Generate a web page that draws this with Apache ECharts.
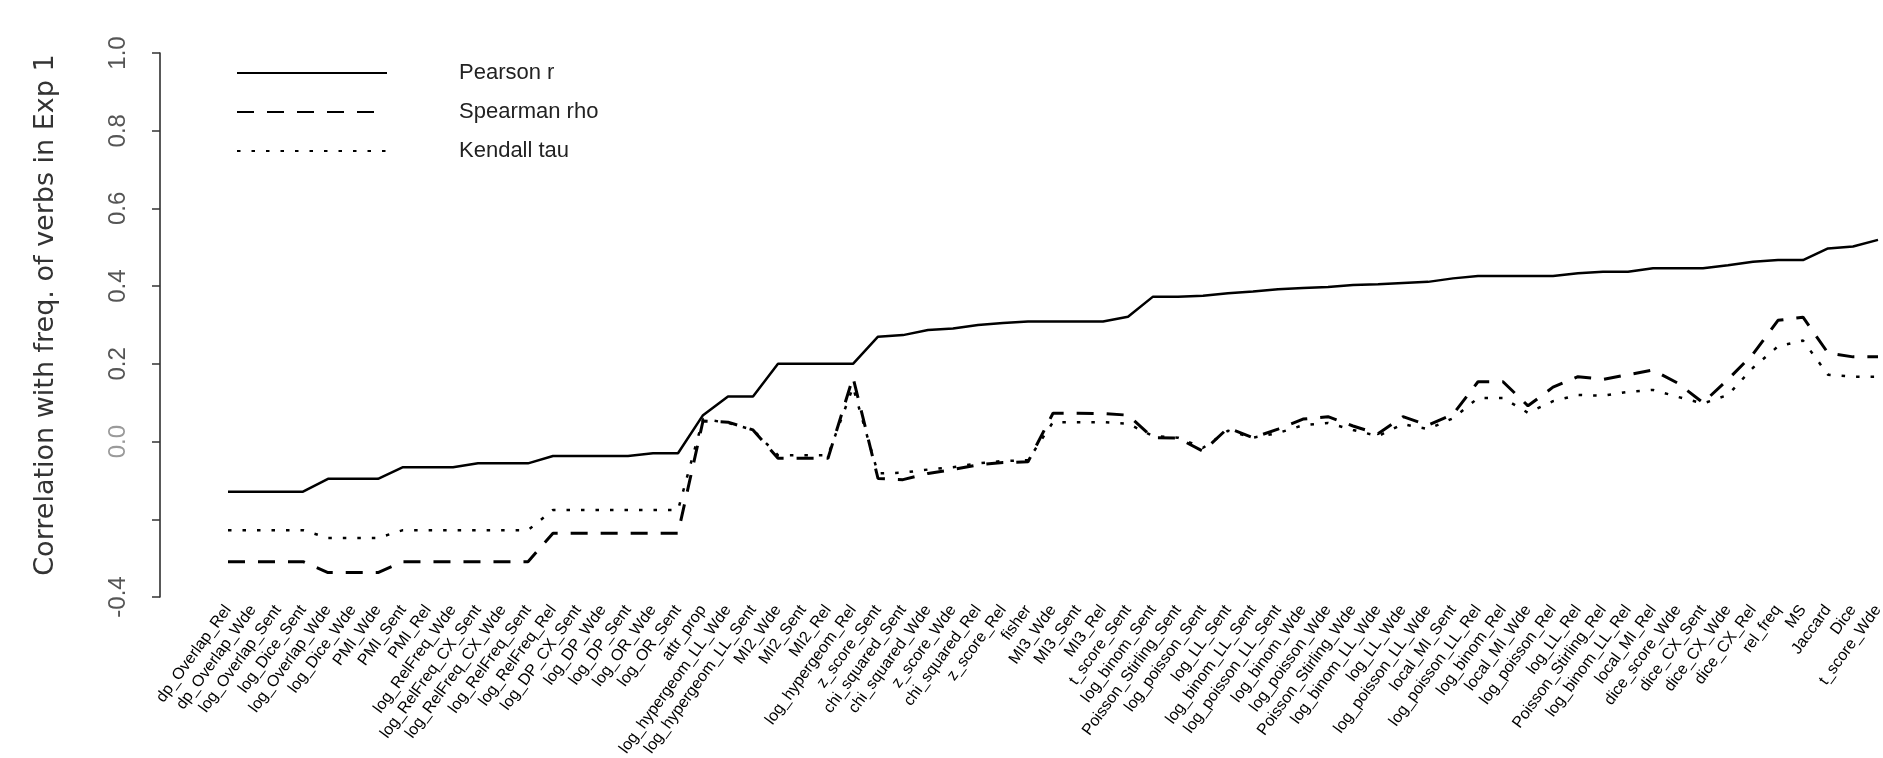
<!DOCTYPE html>
<html>
<head>
<meta charset="utf-8">
<script src="https://cdn.jsdelivr.net/npm/echarts@6/dist/echarts.min.js"></script>
<style>html,body{margin:0;padding:0;background:#fff}#c{width:1883px;height:758px}</style>
</head>
<body>
<div id="c"></div>
<script>
var categories = [
"dp_Overlap_Rel","dp_Overlap_Wde","log_Overlap_Sent","log_Dice_Sent","log_Overlap_Wde","log_Dice_Wde",
"PMI_Wde","PMI_Sent","PMI_Rel","log_RelFreq_Wde","log_RelFreq_CX_Sent","log_RelFreq_CX_Wde",
"log_RelFreq_Sent","log_RelFreq_Rel","log_DP_CX_Sent","log_DP_Wde","log_DP_Sent","log_OR_Wde",
"log_OR_Sent","attr_prop","log_hypergeom_LL_Wde","log_hypergeom_LL_Sent","MI2_Wde","MI2_Sent",
"MI2_Rel","log_hypergeom_Rel","z_score_Sent","chi_squared_Sent","chi_squared_Wde","z_score_Wde",
"chi_squared_Rel","z_score_Rel","fisher","MI3_Wde","MI3_Sent","MI3_Rel","t_score_Sent",
"log_binom_Sent","Poisson_Stirling_Sent","log_poisson_Sent","log_LL_Sent","log_binom_LL_Sent",
"log_poisson_LL_Sent","log_binom_Wde","log_poisson_Wde","Poisson_Stirling_Wde","log_binom_LL_Wde",
"log_LL_Wde","log_poisson_LL_Wde","local_MI_Sent","log_poisson_LL_Rel","log_binom_Rel",
"local_MI_Wde","log_poisson_Rel","log_LL_Rel","Poisson_Stirling_Rel","log_binom_LL_Rel",
"local_MI_Rel","dice_score_Wde","dice_CX_Sent","dice_CX_Wde","dice_CX_Rel","rel_freq","MS",
"Jaccard","Dice","t_score_Wde"
];

var pearson = [
-0.129,-0.129,-0.129,-0.129,
-0.096,-0.096,-0.096,
-0.066,-0.066,-0.066,
-0.056,-0.056,-0.056,
-0.037,-0.037,-0.037,-0.037,
-0.030,-0.030,
0.068,0.116,0.116,
0.200,0.200,0.200,0.200,
0.270,0.274,0.287,0.291,0.300,0.305,0.309,0.309,0.309,0.309,
0.321,0.373,0.373,0.375,0.382,0.386,0.392,0.395,0.398,0.403,
0.405,0.408,0.411,0.420,0.426,0.426,0.426,0.426,
0.433,0.437,0.437,0.446,0.446,0.446,
0.454,0.463,0.467,0.467,0.497,0.502,0.519
];

var spearman = [
-0.309,-0.309,-0.309,-0.309,
-0.337,-0.337,-0.337,
-0.309,-0.309,-0.309,-0.309,-0.309,-0.309,
-0.236,-0.236,-0.236,-0.236,-0.236,-0.236,
0.053,0.050,0.030,
-0.043,-0.043,-0.043,
0.165,
-0.095,-0.098,-0.082,-0.072,-0.060,-0.054,-0.052,
0.073,0.073,0.072,0.068,
0.010,0.009,-0.025,0.035,0.010,
0.032,0.058,0.064,0.040,0.020,0.064,0.042,0.070,
0.154,0.154,0.092,0.140,0.167,0.160,0.172,0.184,0.150,0.100,0.160,
0.225,0.312,0.320,0.228,0.218,0.218
];

var kendall = [
-0.228,-0.228,-0.228,-0.228,
-0.248,-0.248,-0.248,
-0.228,-0.228,-0.228,-0.228,-0.228,-0.228,
-0.176,-0.176,-0.176,-0.176,-0.176,-0.176,
0.058,0.048,0.030,
-0.035,-0.035,-0.035,
0.140,
-0.082,-0.080,-0.072,-0.066,-0.056,-0.050,-0.048,
0.050,0.050,0.050,0.046,
0.014,0.010,-0.016,0.028,0.010,
0.022,0.042,0.048,0.030,0.014,0.045,0.032,0.060,
0.112,0.112,0.074,0.104,0.120,0.118,0.128,0.133,0.115,0.098,0.120,
0.190,0.245,0.260,0.172,0.167,0.167
];

var seriesNames = ["Pearson r", "Spearman rho", "Kendall tau"];
var yMin = -0.4, yMax = 1.0, yStep = 0.2;
var yHiddenLabels = ["-0.2"];
var yAxisTitle = "Correlation with freq. of verbs in Exp 1";

var chart = echarts.init(document.getElementById('c'), null, {renderer: 'canvas'});
var font = "'Liberation Sans', Arial, sans-serif";
var narrow = "'Liberation Sans Narrow', 'Arial Narrow', 'Liberation Sans', sans-serif";

chart.setOption({
  animation: false,
  backgroundColor: '#ffffff',
  grid: {left: 228, right: 5, top: 53, bottom: 161, outerBoundsMode: 'none', containLabel: false},
  legend: {
    show: true,
    orient: 'vertical',
    left: 231,
    top: 56,
    itemWidth: 150,
    itemHeight: 14,
    itemGap: 15,
    data: seriesNames,
    itemStyle: {opacity: 0},
    textStyle: {fontFamily: narrow, fontSize: 22, color: '#222', lineHeight: 24, padding: [0, 0, 0, 67]}
  },
  xAxis: {
    type: 'category',
    data: categories,
    boundaryGap: false,
    axisLine: {show: false},
    axisTick: {show: false},
    splitLine: {show: false},
    axisLabel: {
      interval: 0, rotate: 54, fontFamily: narrow, fontSize: 16, color: '#000', margin: 10, hideOverlap: false
    }
  },
  yAxis: {
    type: 'value',
    min: yMin, max: yMax, interval: yStep,
    offset: 68,
    name: yAxisTitle,
    nameLocation: 'middle',
    nameRotate: 90,
    nameGap: 101,
    nameTextStyle: {fontFamily: "'DejaVu Sans', sans-serif", fontSize: 27, color: '#333', padding: [0, 0, 0, 20]},
    axisLine: {show: true, lineStyle: {color: '#222', width: 1.5}},
    axisTick: {show: true, length: 8, inside: false, lineStyle: {color: '#333', width: 1.5}},
    splitLine: {show: false},
    axisLabel: {
      rotate: 90, margin: 30, fontFamily: font, fontSize: 24, color: '#555',
      formatter: function (v) {
        var s = v.toFixed(1);
        if (s === '-0.0') s = '0.0';
        if (yHiddenLabels.indexOf(s) >= 0) return '';
        if (s === '0.0') return '{g|0.0}';
        return s;
      },
      rich: {g: {color: '#9a9a9a', fontFamily: font, fontSize: 24}}
    }
  },
  series: [
    {name: seriesNames[0], type: 'line', data: pearson, symbol: 'none', showSymbol: false,
     lineStyle: {color: '#000', width: 2.5, type: 'solid'}, itemStyle: {color: '#000'}},
    {name: seriesNames[1], type: 'line', data: spearman, symbol: 'none', showSymbol: false,
     lineStyle: {color: '#000', width: 3, type: [17, 13]}, itemStyle: {color: '#000'}},
    {name: seriesNames[2], type: 'line', data: kendall, symbol: 'none', showSymbol: false,
     lineStyle: {color: '#000', width: 2.5, type: [3.5, 11]}, itemStyle: {color: '#000'}}
  ]
});
</script>
</body>
</html>
